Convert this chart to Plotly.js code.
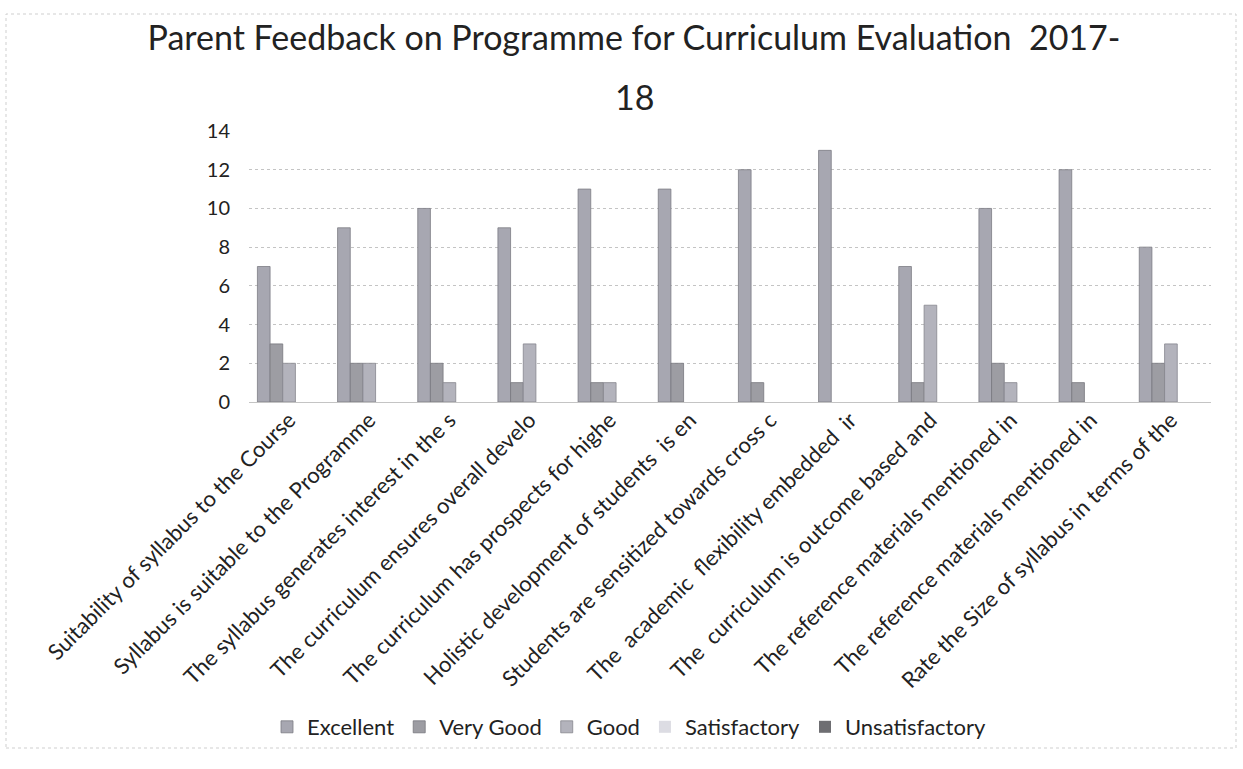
<!DOCTYPE html>
<html>
<head>
<meta charset="utf-8">
<script src="https://cdn.plot.ly/plotly-3.0.1.min.js"></script>
<style>
  html, body { margin: 0; padding: 0; background: #ffffff; }
  #chart { width: 1243px; height: 769px; }
</style>
</head>
<body>
<div id="chart"></div>
<script>
// ---- data ----
const categories = [
  "Suitability of syllabus to the Course",
  "Syllabus is suitable to the Programme",
  "The syllabus generates interest in the s",
  "The curriculum ensures overall develo",
  "The curriculum has prospects for highe",
  "Holistic development of students  is en",
  "Students are sensitized towards cross c",
  "The  academic  flexibility embedded  ir",
  "The  curriculum is outcome based and",
  "The reference materials mentioned in",
  "The reference materials mentioned in",
  "Rate the Size of syllabus in terms of the"
];
const seriesNames = ["Excellent", "Very Good", "Good", "Satisfactory", "Unsatisfactory"];
const excellent      = [7, 9, 10, 9, 11, 11, 12, 13, 7, 10, 12, 8];
const veryGood       = [3, 2, 2, 1, 1, 2, 1, 0, 1, 2, 1, 2];
const good           = [2, 2, 1, 3, 1, 0, 0, 0, 5, 1, 0, 3];
const satisfactory   = [0, 0, 0, 0, 0, 0, 0, 0, 0, 0, 0, 0];
const unsatisfactory = [0, 0, 0, 0, 0, 0, 0, 0, 0, 0, 0, 0];
const yTicks = [0, 2, 4, 6, 8, 10, 12, 14];
const titleLine1 = "Parent Feedback on Programme for Curriculum Evaluation  2017-";
const titleLine2 = "18";

// ---- styling ----
const fillColors = ["#a7a7b1", "#9d9da3", "#b3b3bc", "#dcdce3", "#6e6e72"];
const edgeColors = ["#7c7c84", "#77777d", "#86868e", "#bdbdc4", "#4f4f53"];
const FONT = "Lato, 'Open Sans', sans-serif";

const xIdx = categories.map((_, i) => i);
const allSeries = [excellent, veryGood, good, satisfactory, unsatisfactory];

const traces = allSeries.map((vals, k) => ({
  type: "bar",
  name: seriesNames[k],
  x: xIdx,
  y: vals,
  marker: {
    color: fillColors[k],
    line: { color: edgeColors[k], width: vals.map(v => (v > 0 ? 0.8 : 0)) }
  },
  hoverinfo: "name+y"
}));

// plot area in pixels: x 249..1211, y 131..402
const L = 249, R = 1243 - 1211, T = 131, B = 769 - 402;
const PW = 1243 - L - R, PH = 769 - T - B;
const px = v => (v - L) / PW;
const py = v => (769 - B - v) / PH;

const layout = {
  width: 1243,
  height: 769,
  margin: { l: L, r: R, t: T, b: B, autoexpand: false },
  paper_bgcolor: "#ffffff",
  plot_bgcolor: "#ffffff",
  font: { family: FONT, color: "#222222", size: 18 },
  title: {
    text: titleLine1,
    font: { family: FONT, size: 34, color: "#222222" },
    x: px(634), xref: "paper", xanchor: "center",
    y: 1 - 38 / 769, yref: "container", yanchor: "middle"
  },
  annotations: [{
    text: titleLine2,
    xref: "paper", yref: "paper",
    x: px(634), y: py(96),
    xanchor: "center", yanchor: "middle",
    showarrow: false,
    font: { family: FONT, size: 34, color: "#222222" }
  }],
  barmode: "group",
  bargap: 0.21,
  bargroupgap: 0,
  xaxis: {
    tickmode: "array",
    tickvals: xIdx,
    ticktext: categories,
    tickangle: -45,
    range: [-0.5, categories.length - 0.5],
    showgrid: false,
    zeroline: false,
    showline: false,
    ticks: "",
    automargin: false,
    tickfont: { family: FONT, size: 22, color: "#222222" }
  },
  yaxis: {
    range: [0, 14],
    tickmode: "array",
    tickvals: yTicks,
    ticktext: yTicks.map(String),
    showgrid: true,
    gridcolor: "#c4c4c4",
    griddash: "dot",
    gridwidth: 1,
    zeroline: true,
    zerolinecolor: "#c4c4c4",
    zerolinewidth: 1,
    showline: false,
    ticks: "",
    ticklabelstandoff: 18,
    automargin: false,
    tickfont: { family: FONT, size: 20, color: "#222222" }
  },
  legend: {
    orientation: "h",
    x: px(629), xanchor: "center",
    y: py(727), yanchor: "middle",
    font: { family: FONT, size: 22, color: "#222222" },
    itemwidth: 30,
    tracegroupgap: 0,
    bgcolor: "rgba(0,0,0,0)"
  },
  shapes: [{
    type: "rect",
    xref: "paper", yref: "paper",
    x0: px(6), x1: px(1236),
    y0: py(748), y1: py(14),
    line: { color: "#cfcfcf", width: 1, dash: "dot" },
    fillcolor: "rgba(0,0,0,0)",
    layer: "below"
  }],
  showlegend: true
};

Plotly.newPlot("chart", traces, layout, { displayModeBar: false, staticPlot: true });
</script>
</body>
</html>
